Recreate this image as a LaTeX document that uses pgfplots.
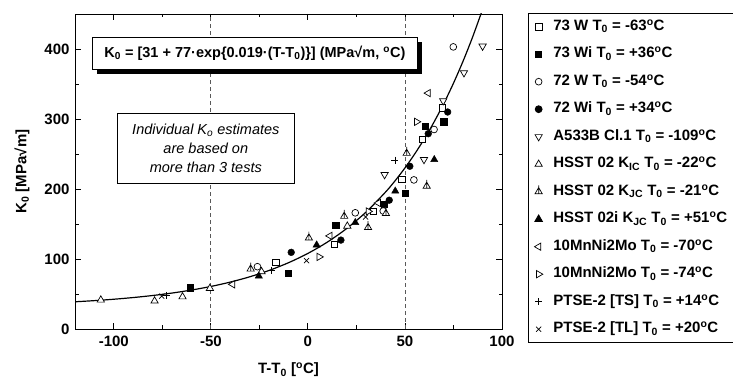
\documentclass[border=0pt]{standalone}
\usepackage{pgfplots}
\pgfplotsset{compat=1.18}
\usepackage{fontspec}
\setmainfont{Liberation Sans}
\usetikzlibrary{shadows}

\pgfdeclareplotmark{tribar}{%
 \pgfpathmoveto{\pgfqpoint{0pt}{\pgfplotmarksize}}%
 \pgfpathlineto{\pgfqpointpolar{-30}{\pgfplotmarksize}}%
 \pgfpathlineto{\pgfqpointpolar{210}{\pgfplotmarksize}}%
 \pgfpathclose
 \pgfpathmoveto{\pgfqpoint{0pt}{1.5\pgfplotmarksize}}%
 \pgfpathlineto{\pgfqpoint{0pt}{-0.5\pgfplotmarksize}}%
 \pgfusepathqfillstroke}

\newcommand{\dg}{\textsuperscript{o}C}
\newcommand{\fnt}{\fontsize{15bp}{17bp}\selectfont\bfseries}

\begin{document}
\begin{tikzpicture}
\path[use as bounding box] (0,0) rectangle (733bp,385bp);
\begin{axis}[
  at={(75bp,56bp)}, anchor=south west,
  scale only axis, width=427bp, height=315bp,
  xmin=-120, xmax=100, ymin=0, ymax=450,
  xtick={-100,-50,0,50,100}, minor xtick={-75,-25,25,75},
  ytick={0,100,200,300,400}, minor ytick={50,150,250,350},
  tick align=inside, major tick length=6bp, minor tick length=3.5bp,
  axis line style={line width=0.9bp}, every tick/.style={line width=0.9bp, black},
  /pgf/number format/assume math mode=true,
  ticklabel style={font=\fnt},
  xticklabel style={yshift=-4bp},
  yticklabel style={xshift=-2bp},
  xlabel={T-T\textsubscript{0} [\dg]},
  ylabel={K\textsubscript{0} [MPa√m]},
  label style={font=\fnt},
  xlabel style={at={(axis description cs:0.5,-0.13)}, anchor=center},
  ylabel style={at={(axis description cs:-0.124,0.5)}, anchor=center},
  legend style={at={(1,1)}, anchor=north west, xshift=26bp, yshift=1bp,
    font=\fnt, draw=black, line width=0.9bp, row sep=7bp,
    nodes={inner sep=2.5bp, text height=11.5bp, text depth=4bp},
    /tikz/every odd column/.append style={column sep=8bp},
    inner xsep=6bp, inner ysep=3bp},
  legend cell align=left,
  clip=true,
]
\addplot[gray!70!black, dashed, dash pattern=on 4bp off 3bp, line width=0.8bp, forget plot] coordinates {(-50,0) (-50,450)};
\addplot[gray!70!black, dashed, dash pattern=on 4bp off 3bp, line width=0.8bp, forget plot] coordinates {(50,0) (50,450)};

% 73 W
\addplot[only marks, mark=square*, mark size=3.2bp, mark options={fill=white, draw=black, line width=0.7bp}] coordinates {
(-16.5,95) (13.6,121) (33.7,168) (48.5,214) (59,271) (69.2,316)};
\addlegendentry{73 W T\textsubscript{0} = -63\dg}
% 73 Wi
\addplot[only marks, mark=square*, mark size=3.2bp, mark options={fill=black, draw=black}] coordinates {
(-60.8,59) (-10.3,79.5) (14.3,148.6) (39.2,178) (50,194) (60.3,290) (70,296)};
\addlegendentry{73 Wi T\textsubscript{0} = +36\dg}
% 72 W
\addplot[only marks, mark=*, mark size=3.4bp, mark options={fill=white, draw=black, line width=0.7bp}] coordinates {
(-26,89) (24.4,166) (38.8,168.6) (54.6,213) (65,285) (74.9,403)};
\addlegendentry{72 W T\textsubscript{0} = -54\dg}
% 72 Wi
\addplot[only marks, mark=*, mark size=3.4bp, mark options={fill=black, draw=black}] coordinates {
(-8.6,109.5) (17,127) (41.9,184) (52.5,232.5) (62,279) (72,310)};
\addlegendentry{72 Wi T\textsubscript{0} = +34\dg}
% A533B
\addplot[only marks, mark=triangle*, mark size=4.2bp, mark options={fill=white, draw=black, rotate=180, line width=0.7bp}] coordinates {
(39.5,220.5) (59.8,242) (69.7,326) (80.4,366) (90,404)};
\addlegendentry{A533B Cl.1 T\textsubscript{0} = -109\dg}
% HSST 02 KIC
\addplot[only marks, mark=triangle*, mark size=4.2bp, mark options={fill=white, draw=black, line width=0.7bp}] coordinates {
(-106.7,41.4) (-79,40) (-64.6,46) (-50.5,58) (-23.9,82) (20.3,147)};
\addlegendentry{HSST 02 K\textsubscript{IC} T\textsubscript{0} = -22\dg}
% HSST 02 KJC
\addplot[only marks, mark=tribar, mark size=4.2bp, mark options={fill=white, draw=black, line width=0.7bp}] coordinates {
(-29.5,85.7) (0.5,130) (18.7,161) (31,145) (40.2,165) (50.9,251) (61.2,204)};
\addlegendentry{HSST 02 K\textsubscript{JC} T\textsubscript{0} = -21\dg}
% HSST 02i KJC
\addplot[only marks, mark=triangle*, mark size=4.2bp, mark options={fill=black, draw=black}] coordinates {
(-25.3,75.7) (4.5,120) (24.4,152) (45,197) (65.1,242)};
\addlegendentry{HSST 02i K\textsubscript{JC} T\textsubscript{0} = +51\dg}
% 10MnNi2Mo -70
\addplot[only marks, mark=triangle*, mark size=4.2bp, mark options={fill=white, draw=black, rotate=90, line width=0.7bp}] coordinates {
(-38.8,63.8) (11.3,133) (36.3,180) (62,337)};
\addlegendentry{10MnNi2Mo T\textsubscript{0} = -70\dg}
% 10MnNi2Mo -74
\addplot[only marks, mark=triangle*, mark size=4.2bp, mark options={fill=white, draw=black, rotate=-90, line width=0.7bp}] coordinates {
(5.8,103) (31.1,168) (56,296)};
\addlegendentry{10MnNi2Mo T\textsubscript{0} = -74\dg}
% PTSE TS
\addplot[only marks, mark=+, mark size=3.6bp, mark options={draw=black, line width=0.7bp}] coordinates {
(-73,48) (-18.7,83.3) (44.8,241)};
\addlegendentry{PTSE-2 [TS] T\textsubscript{0} = +14\dg}
% PTSE TL
\addplot[only marks, mark=x, mark size=3.6bp, mark options={draw=black, line width=0.7bp}] coordinates {
(-75.3,47) (-0.7,97.6) (29.7,160)};
\addlegendentry{PTSE-2 [TL] T\textsubscript{0} = +20\dg}

% master curve
\addplot[black, line width=1.2bp, smooth, forget plot] coordinates {
(-120,38.88) (-110,40.52) (-100,42.52) (-90,44.93) (-80,47.84) (-70,51.37)
(-60,55.63) (-50,60.78) (-40,67.01) (-30,74.55) (-20,83.66) (-10,94.68)
(0,108) (10,124.11) (20,143.60) (30,167.16) (40,195.65) (45,212.06) (50,230.10)
(55,249.94) (60,271.76) (65,295.76) (70,322.14) (75,351.14) (80,383.06) (85,418.16) (90,456.73)};

\node[draw=black, line width=0.9bp, fill=white, font=\fontsize{14.5bp}{17bp}\selectfont\bfseries, minimum width=325bp, minimum height=32bp, inner xsep=3bp,
  drop shadow={shadow xshift=5bp, shadow yshift=-5bp, opacity=1, fill=black}]
  at (axis cs:-27.3,394) {K\textsubscript{0} = [31 + 77·exp\{0.019·(T-T\textsubscript{0})\}] (MPa√m, \dg)};
\node[draw=black, line width=0.7bp, fill=white, font=\fontsize{14.5bp}{19bp}\selectfont\itshape, align=center,
  minimum width=177bp, minimum height=70bp, inner sep=2bp]
  at (axis cs:-52.6,258.6) {Individual K\textsubscript{o} estimates\\are based on\\more than 3 tests};
\end{axis}
\end{tikzpicture}
\end{document}
